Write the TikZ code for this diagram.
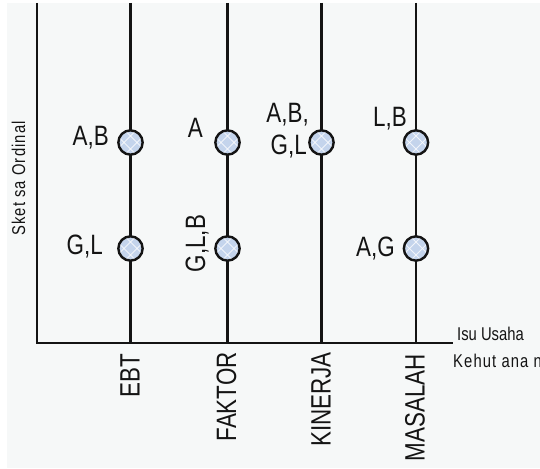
\documentclass[tikz,border=0pt]{standalone}
\usepackage{fontspec}
\setmainfont{Liberation Sans}
\newfontfamily\lblfont[FakeStretch=0.8]{Liberation Sans}
\newfontfamily\spacedfont[FakeStretch=0.8,LetterSpace=6]{Liberation Sans}
\definecolor{ink}{RGB}{20,20,20}
\definecolor{paper}{RGB}{246,248,248}
\definecolor{dotblue}{RGB}{196,212,236}
\begin{document}
\begin{tikzpicture}[x=1pt,y=-1pt,
  axis/.style={line width=2.4pt, draw=ink},
  dot/.style={circle, draw=ink, line width=2.4pt, fill=dotblue,
    minimum size=24.3pt, inner sep=0pt,
    path picture={
      \foreach \d in {-6.5,6.5}{
        \draw[white, line width=0.9pt, opacity=0.75]
          ([xshift=\d pt]path picture bounding box.south west) --
          ([xshift=\d pt]path picture bounding box.north east);
        \draw[white, line width=0.9pt, opacity=0.75]
          ([xshift=\d pt]path picture bounding box.north west) --
          ([xshift=\d pt]path picture bounding box.south east);
      }
    }},
  lbl/.style={font=\lblfont\fontsize{28}{30}\selectfont, inner sep=0pt, text=ink},
  small/.style={font=\lblfont\fontsize{18.5}{20}\selectfont, inner sep=0pt, text=ink},
  spaced/.style={font=\spacedfont\fontsize{18.5}{20}\selectfont, inner sep=0pt, text=ink},
]
\useasboundingbox (0,0) rectangle (540,468);
\clip (0,0) rectangle (540,468);
\fill[white] (0,0) rectangle (540,468);
\fill[paper] (7,3) rectangle (540,468);

% axes
\coordinate (ytop) at (37,3);
\coordinate (origin) at (37,343);
\coordinate (xend) at (453,343);
\draw[axis] (ytop) -- (origin) -- (xend);

% category lines
\coordinate (ebtT) at (130.5,3);   \coordinate (ebtB) at (130.5,343);
\coordinate (fakT) at (227.5,3);   \coordinate (fakB) at (227.5,343);
\coordinate (kinT) at (321.5,3);   \coordinate (kinB) at (321.5,343);
\coordinate (masT) at (416,3);     \coordinate (masB) at (416,343);
\draw[axis] (ebtT) -- (ebtB);
\draw[axis] (fakT) -- (fakB);
\draw[axis] (kinT) -- (kinB);
\draw[axis] (masT) -- (masB);

% ordinal points
\node[dot] (ebt1) at (130.5,142.5) {};
\node[dot] (ebt2) at (130.5,248.5) {};
\node[dot] (fak1) at (227.5,142.5) {};
\node[dot] (fak2) at (227.5,248.5) {};
\node[dot] (kin1) at (321.5,142.5) {};
\node[dot] (mas1) at (416,142.5) {};
\node[dot] (mas2) at (416,248.5) {};

% point labels
\node[lbl, anchor=base east] (l-ebt1) at (109,145) {A,B};
\node[lbl, anchor=base east] (l-ebt2) at (103,254) {G,L};
\node[lbl, anchor=base east] (l-fak1) at (203,137) {A};
\node[lbl, rotate=90, anchor=base] (l-fak2) at (205,243.5) {G,L,B};
\node[lbl, anchor=base east] (l-kin1a) at (309,122) {A,B,};
\node[lbl, anchor=base east] (l-kin1b) at (307,154) {G,L};
\node[lbl, anchor=base east] (l-mas1) at (407,126) {L,B};
\node[lbl, anchor=base east] (l-mas2) at (395,256.5) {A,G};

% category names
\node[lbl, rotate=90, anchor=east] (c-ebt) at (130,354) {EBT};
\node[lbl, rotate=90, anchor=east] (c-fak) at (226.5,352) {FAKTOR};
\node[lbl, rotate=90, anchor=east] (c-kin) at (321,352) {KINERJA};
\node[lbl, rotate=90, anchor=east] (c-mas) at (415,354) {MASALAH};

% axis titles
\node[spaced, rotate=90, anchor=base] (ytitle) at (25,178.5) {Sket sa Ordinal};
\node[small, anchor=base west] (xtitle1) at (457,340) {Isu Usaha};
\node[spaced, anchor=base west] (xtitle2) at (453,367) {Kehut ana n};
\end{tikzpicture}
\end{document}
